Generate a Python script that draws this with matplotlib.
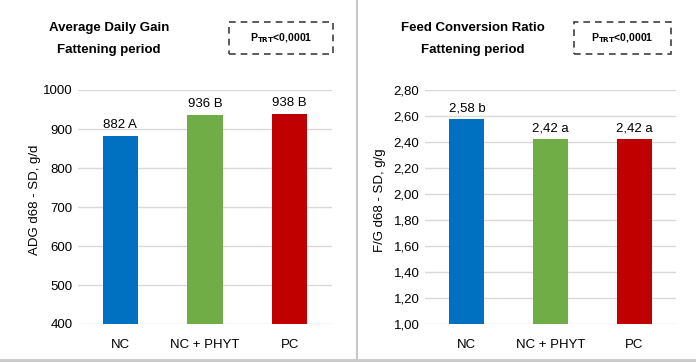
import matplotlib
matplotlib.use("Agg")
import matplotlib.pyplot as plt
from matplotlib.lines import Line2D
from matplotlib.patches import Rectangle

plt.rcParams["font.family"] = ["Liberation Sans", "DejaVu Sans"]

groups = ["NC", "NC + PHYT", "PC"]
colors = ["#0070C0", "#70AD47", "#C00000"]

adg = [882, 936, 938]
adg_labels = ["882 A", "936 B", "938 B"]
adg_ticks = [400, 500, 600, 700, 800, 900, 1000]

fcr = [2.58, 2.42, 2.42]
fcr_labels = ["2,58 b", "2,42 a", "2,42 a"]
fcr_ticks = [1.00, 1.20, 1.40, 1.60, 1.80, 2.00, 2.20, 2.40, 2.60, 2.80]

W, H = 696, 363
FS = 9.5
fig = plt.figure(figsize=(W / 100, H / 100), dpi=100)


def panel(x0, x1, vals, labels, ticks, fmt, ylabel, title, box, tx, ylab_x, off):
    ax = fig.add_axes([x0 / W, 1 - 324 / H, (x1 - x0) / W, (324 - 90) / H])
    xs = range(len(groups))
    ax.bar(xs, [v - ticks[0] for v in vals], bottom=ticks[0], width=0.42,
           color=colors, zorder=3)
    for x, v, lab in zip(xs, vals, labels):
        ax.text(x, v + off, lab, ha="center", va="bottom", fontsize=FS)
    ax.set_xlim(-0.5, 2.5)
    ax.set_ylim(ticks[0], ticks[-1])
    ax.set_yticks(ticks)
    ax.set_yticklabels([fmt(t) for t in ticks], fontsize=FS)
    ax.set_xticks(list(xs))
    ax.set_xticklabels(groups, fontsize=FS)
    ax.tick_params(axis="y", length=0, pad=4)
    ax.tick_params(axis="x", length=0, pad=11)
    ax.grid(axis="y", color="#d9d9d9", linewidth=1, zorder=0)
    for s in ax.spines.values():
        s.set_visible(False)
    fig.text(ylab_x / W, 1 - 200 / H, ylabel, rotation=90, ha="center",
             va="center", fontsize=FS)
    fig.text(tx / W, 1 - 28 / H, title, ha="center", va="center",
             fontsize=FS, fontweight="bold")
    fig.text(tx / W, 1 - 50 / H, "Fattening period", ha="center", va="center",
             fontsize=FS, fontweight="bold")
    bx0, bx1 = box
    fig.patches.append(Rectangle((bx0 / W, 1 - 54 / H), (bx1 - bx0) / W, 32 / H,
                                 transform=fig.transFigure, fill=False,
                                 edgecolor="#404040", linestyle=(0, (4, 3)),
                                 linewidth=1.2))
    fig.text((bx0 + bx1) / 2 / W, 1 - 38 / H,
             r"P$_{\mathbf{TRT}}$<0,0001", ha="center", va="center",
             fontsize=7.5, fontweight="bold")


panel(78, 332, adg, adg_labels, adg_ticks, lambda t: f"{t:d}",
      "ADG d68 - SD, g/d", "Average Daily Gain", (229, 333), 109, 35, 12)
panel(425, 676, fcr, fcr_labels, fcr_ticks, lambda t: f"{t:.2f}".replace(".", ","),
      "F/G d68 - SD, g/g", "Feed Conversion Ratio", (574, 671), 473, 380, 0.035)

# frame lines
fig.lines.append(Line2D([357 / W, 357 / W], [1 - 360 / H, 1], transform=fig.transFigure,
                        color="#c8c8c8", linewidth=1.5))
fig.lines.append(Line2D([0, 1], [1 - 360 / H, 1 - 360 / H], transform=fig.transFigure,
                        color="#c8c8c8", linewidth=2))

fig.savefig("out.png", dpi=100)
